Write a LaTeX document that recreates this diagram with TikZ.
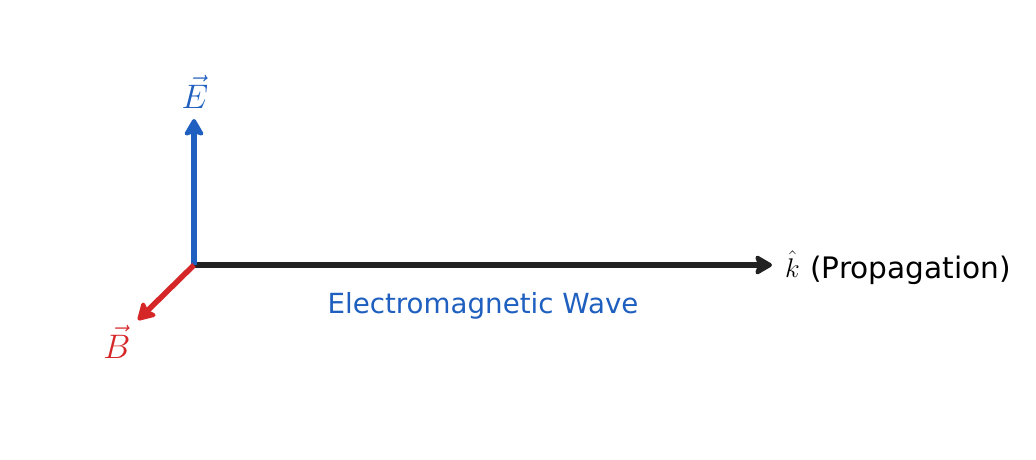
\RequirePackage{fix-cm}
\documentclass[tikz,border=0pt]{standalone}
\usepackage{fontspec}
\setsansfont{DejaVu Sans}
\usetikzlibrary{arrows.meta}
\definecolor{eblue}{HTML}{1F5FBF}
\definecolor{bred}{HTML}{D62728}
\definecolor{kblack}{HTML}{222222}
\tikzset{
  vec/.style={line width=5.5pt, -{Stealth[length=20pt,width=23pt,inset=4pt,round]}},
  biglbl/.style={inner sep=0pt, anchor=base, font=\fontsize{34}{36}\selectfont},
  klbl/.style={inner sep=0pt, anchor=base west, font=\fontsize{27}{30}\selectfont},
  txt/.style={inner sep=0pt, font=\sffamily\fontsize{27.7}{30}\selectfont},
  ptxt/.style={inner sep=0pt, font=\sffamily\fontsize{29.6}{32}\selectfont}
}
\begin{document}
\begin{tikzpicture}[x=1pt,y=-1pt]
\useasboundingbox (0,0) rectangle (1036,459);
\coordinate (O) at (194,265);
\coordinate (Etip) at (194,119);
\coordinate (Ktip) at (772,265);
\coordinate (Btip) at (138,320);
\draw[vec, kblack] (O) -- (Ktip);
\draw[vec, eblue] (O) -- (Etip);
\draw[vec, bred] (O) -- (Btip);
\node[biglbl, text=eblue] (E) at (195,108) {$\vec{E}$};
\node[biglbl, text=bred] (B) at (117,358) {$\vec{B}$};
\node[klbl] (k) at (785,277) {$\hat{k}$};
\node[ptxt, anchor=base west] (prop) at (810,278) {(Propagation)};
\node[txt, text=eblue, anchor=base] (wave) at (483,313) {Electromagnetic Wave};
\end{tikzpicture}
\end{document}
